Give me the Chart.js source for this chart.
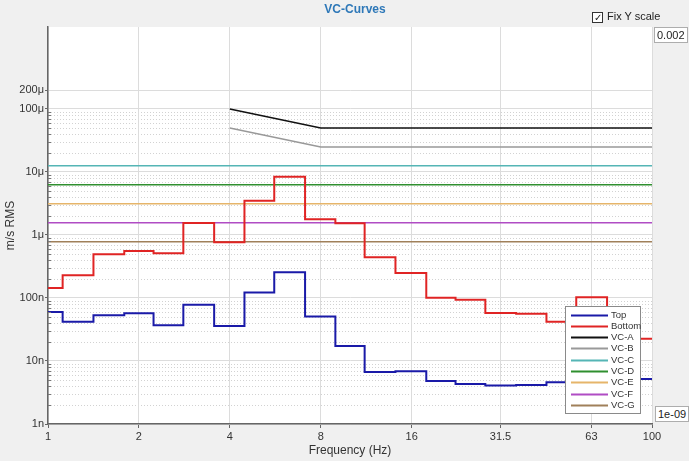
<!DOCTYPE html>
<html>
<head>
<meta charset="utf-8">
<script src="https://cdn.jsdelivr.net/npm/chart.js@4.4.1/dist/chart.umd.min.js"></script>
<style>
  html, body { margin: 0; padding: 0; background: #f0f0f0; }
  #wrap { position: relative; width: 689px; height: 461px; font-family: "Liberation Sans", Arial, sans-serif; color: #222; }
  #chart { position: absolute; left: 0; top: 0; }
  #title { position: absolute; left: 300px; top: 2px; width: 110px; text-align: center; font-weight: bold; font-size: 12px; color: #2e78b8; }
  #fix { position: absolute; left: 592px; top: 10px; font-size: 11px; line-height: 12px; white-space: nowrap; }
  #fix .box { display: inline-block; width: 9px; height: 9px; border: 1px solid #333; background: #fff; font-size: 10px; line-height: 9px; text-align: center; margin-right: 4px; vertical-align: -1px; }
  .field { position: absolute; width: 30px; height: 14px; border: 1px solid #adadad; background: #fff; font-size: 11px; line-height: 14px; padding-left: 2px; }
</style>
</head>
<body>
<div id="wrap">
  <canvas id="chart" width="689" height="461"></canvas>
  <div id="title">VC-Curves</div>
  <div id="fix"><span class="box">✓</span>Fix Y scale</div>
  <div class="field" style="left:654px;top:27px">0.002</div>
  <div class="field" style="left:655px;top:406px">1e-09</div>
</div>
<script>
// 1/3 octave band centres (Hz)
const freqs = [1, 1.25, 1.6, 2, 2.5, 3.15, 4, 5, 6.3, 8, 10, 12.5, 16, 20, 25, 31.5, 40, 50, 63, 80, 100];
const topValues = [60e-9, 42e-9, 53e-9, 57e-9, 37e-9, 78e-9, 36e-9, 122e-9, 255e-9, 51e-9, 17.3e-9, 6.7e-9, 6.9e-9, 4.8e-9, 4.3e-9, 4.1e-9, 4.15e-9, 4.6e-9, 4.9e-9, 5.2e-9, 5.2e-9];
const bottomValues = [144e-9, 229e-9, 494e-9, 557e-9, 512e-9, 1.55e-6, 766e-9, 3.5e-6, 8.4e-6, 1.77e-6, 1.53e-6, 443e-9, 249e-9, 101e-9, 94e-9, 57.8e-9, 56e-9, 42e-9, 103e-9, 22.6e-9, 22.6e-9];
const vcSlopeFreqs = [4, 8, 100];
const vcAValues = [100e-6, 50e-6, 50e-6];
const vcBValues = [50e-6, 25e-6, 25e-6];
const vcFlatFreqs = [1, 100];
const vcFlatNames = ["VC-C", "VC-D", "VC-E", "VC-F", "VC-G"];
const vcFlatLevels = [12.5e-6, 6.25e-6, 3.12e-6, 1.56e-6, 0.78e-6];
const xTickValues = [1, 2, 4, 8, 16, 31.5, 63, 100];
const xTickLabels = ["1", "2", "4", "8", "16", "31.5", "63", "100"];
const yTickValues = [1e-9, 1e-8, 1e-7, 1e-6, 1e-5, 1e-4, 2e-4];
const yTickLabels = ["1n", "10n", "100n", "1μ", "10μ", "100μ", "200μ"];

const flatColors = ["#55b5b5", "#2f8f2f", "#e6b56a", "#b04cc4", "#a0805a"];
const toPoints = (xs, ys) => xs.map((x, i) => ({ x, y: ys[i] }));

const datasets = [
  { label: "Top", data: toPoints(freqs, topValues), borderColor: "#1a1aa8", borderWidth: 2, stepped: "middle" },
  { label: "Bottom", data: toPoints(freqs, bottomValues), borderColor: "#e02424", borderWidth: 2, stepped: "middle" },
  { label: "VC-A", data: toPoints(vcSlopeFreqs, vcAValues), borderColor: "#111111", borderWidth: 1.5 },
  { label: "VC-B", data: toPoints(vcSlopeFreqs, vcBValues), borderColor: "#999999", borderWidth: 1.5 },
  ...vcFlatNames.map((name, i) => ({
    label: name,
    data: toPoints(vcFlatFreqs, vcFlatFreqs.map(() => vcFlatLevels[i])),
    borderColor: flatColors[i],
    borderWidth: 1.5
  }))
];

const plotDecor = {
  id: "plotDecor",
  beforeDraw(chart) {
    const { ctx, chartArea: a } = chart;
    const y = chart.scales.y;
    ctx.save();
    ctx.fillStyle = "#f0f0f0";
    ctx.fillRect(0, 0, chart.width, chart.height);
    ctx.fillStyle = "#ffffff";
    ctx.fillRect(a.left, a.top, a.right - a.left, a.bottom - a.top);
    ctx.strokeStyle = "#d2d2d2";
    ctx.lineWidth = 1;
    ctx.setLineDash([1, 2]);
    for (let e = -9; e <= -5; e++) {
      for (let k = 2; k <= 9; k++) {
        const py = Math.round(y.getPixelForValue(k * 10 ** e)) + 0.5;
        ctx.beginPath();
        ctx.moveTo(a.left, py);
        ctx.lineTo(a.right, py);
        ctx.stroke();
      }
    }
    ctx.restore();
  },
  afterDraw(chart) {
    const { ctx, chartArea: a } = chart;
    const y = chart.scales.y;
    ctx.save();
    // minor ticks on the y axis
    ctx.strokeStyle = "#777";
    ctx.lineWidth = 1;
    for (let e = -9; e <= -5; e++) {
      for (let k = 2; k <= 9; k++) {
        const py = Math.round(y.getPixelForValue(k * 10 ** e)) + 0.5;
        ctx.beginPath();
        ctx.moveTo(a.left, py);
        ctx.lineTo(a.left + 3, py);
        ctx.stroke();
      }
    }
    // legend box inside the plot
    const left = a.right - 87, top = a.bottom - 118;
    ctx.fillStyle = "#ffffff";
    ctx.fillRect(left, top, 75, 107);
    ctx.strokeStyle = "#8a8a8a";
    ctx.strokeRect(left + 0.5, top + 0.5, 75, 107);
    ctx.font = "9.5px 'Liberation Sans', Arial, sans-serif";
    ctx.textBaseline = "middle";
    chart.data.datasets.forEach((ds, i) => {
      const ry = Math.round(top + 8.5 + i * 11.3) + 0.5;
      ctx.strokeStyle = ds.borderColor;
      ctx.lineWidth = 2;
      ctx.beginPath();
      ctx.moveTo(left + 6, ry);
      ctx.lineTo(left + 43, ry);
      ctx.stroke();
      ctx.fillStyle = "#333";
      ctx.fillText(ds.label, left + 46, ry);
    });
    ctx.restore();
  }
};

Chart.defaults.font.family = "'Liberation Sans', Arial, sans-serif";

new Chart(document.getElementById("chart"), {
  type: "line",
  data: { datasets },
  options: {
    responsive: false,
    animation: false,
    layout: { padding: { left: 0, right: 37, top: 27, bottom: 0 } },
    elements: { point: { radius: 0 }, line: { fill: false } },
    plugins: { legend: { display: false }, tooltip: { enabled: false } },
    scales: {
      x: {
        type: "logarithmic",
        min: 1,
        max: 100,
        afterBuildTicks: (s) => { s.ticks = xTickValues.map((v) => ({ value: v })); },
        afterFit: (s) => { s.height = 37; },
        ticks: { callback: (v, i) => xTickLabels[i], autoSkip: false, maxRotation: 0, padding: 2, color: "#333", font: { size: 11 } },
        grid: { color: "#dcdcdc", tickColor: "#666", tickLength: 4 },
        border: { color: "#666", width: 1.5 },
        title: { display: true, text: "Frequency (Hz)", color: "#333", font: { size: 12 }, padding: { top: 0, bottom: 3 } }
      },
      y: {
        type: "logarithmic",
        min: 1e-9,
        max: 2e-3,
        afterBuildTicks: (s) => { s.ticks = yTickValues.map((v) => ({ value: v })); },
        afterFit: (s) => { s.width = 48; },
        ticks: { callback: (v, i) => yTickLabels[i], autoSkip: false, padding: 1, color: "#333", font: { size: 11 } },
        grid: { color: "#dcdcdc", tickColor: "#666", tickLength: 3 },
        border: { color: "#666", width: 1.5 },
        title: { display: true, text: "m/s RMS", color: "#333", font: { size: 12 }, padding: { top: 3, bottom: 0 } }
      }
    }
  },
  plugins: [plotDecor]
});
</script>
</body>
</html>
